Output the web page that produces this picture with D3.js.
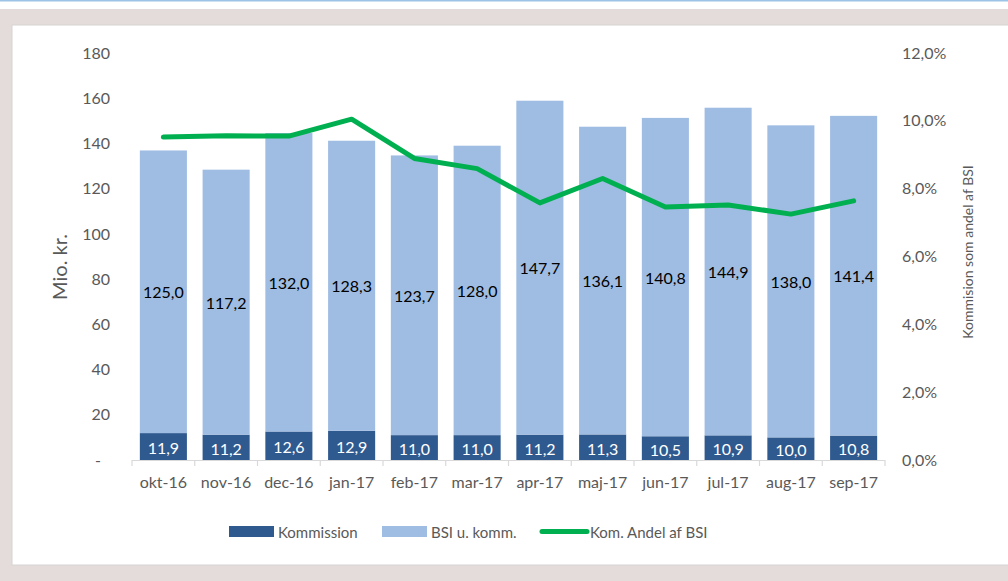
<!DOCTYPE html>
<html>
<head>
<meta charset="utf-8">
<script src="https://cdn.jsdelivr.net/npm/d3@7"></script>
<style>
  html, body { margin: 0; padding: 0; background: #ffffff; }
  svg { display: block; font-family: Lato, "Open Sans", sans-serif; }
</style>
</head>
<body>
<svg id="chart" width="1008" height="581"></svg>
<script>
const categories = ["okt-16","nov-16","dec-16","jan-17","feb-17","mar-17","apr-17","maj-17","jun-17","jul-17","aug-17","sep-17"];
const kommission = [11.9, 11.2, 12.6, 12.9, 11.0, 11.0, 11.2, 11.3, 10.5, 10.9, 10.0, 10.8];
const bsiUKomm = [125.0, 117.2, 132.0, 128.3, 123.7, 128.0, 147.7, 136.1, 140.8, 144.9, 138.0, 141.4];
const komAndel = [9.52, 9.56, 9.55, 10.05, 8.89, 8.59, 7.58, 8.30, 7.46, 7.52, 7.25, 7.64];
const leftTicks = [0, 20, 40, 60, 80, 100, 120, 140, 160, 180];
const rightTicks = [0, 2, 4, 6, 8, 10, 12];
const seriesNames = ["Kommission", "BSI u. komm.", "Kom. Andel af BSI"];

const colDark = "#2f5a8f", colLight = "#9fbce2", colGreen = "#00b050";
const txtGray = "#595959";

const svg = d3.select("#chart");
// background frame
svg.append("rect").attr("x",0).attr("y",0).attr("width",1008).attr("height",581).attr("fill","#ffffff");
svg.append("rect").attr("x",0).attr("y",0).attr("width",1008).attr("height",1.5).attr("fill","#9dc3e6");
svg.append("rect").attr("x",0).attr("y",9).attr("width",1008).attr("height",572).attr("fill","#e4dcdb");
svg.append("rect").attr("x",12).attr("y",25).attr("width",1000).attr("height",540)
  .attr("fill","#ffffff").attr("stroke","#d6d2d2").attr("stroke-width",1);

const x = d3.scaleBand().domain(categories).range([132, 885]).paddingInner(0.25).paddingOuter(0.125);
const y = d3.scaleLinear().domain([0, 180]).range([460, 53]);
const y2 = d3.scaleLinear().domain([0, 12]).range([460, 53]);

// bars
const g = svg.append("g");
categories.forEach((c, i) => {
  const k = kommission[i], b = bsiUKomm[i];
  g.append("rect").attr("x", x(c)).attr("width", x.bandwidth())
    .attr("y", y(k)).attr("height", y(0) - y(k)).attr("fill", colDark);
  g.append("rect").attr("x", x(c)).attr("width", x.bandwidth())
    .attr("y", y(k + b)).attr("height", y(k) - y(k + b)).attr("fill", colLight);
});

// left axis
const yAxis = d3.axisLeft(y).tickValues(leftTicks).tickSize(0).tickPadding(0)
  .tickFormat(d => d === 0 ? "-" : d3.format("d")(d));
const ya = svg.append("g").attr("transform", "translate(110,0)").call(yAxis);
ya.select(".domain").remove();
ya.selectAll("text").attr("fill", txtGray).attr("font-size", 16).attr("font-family", "Lato, sans-serif")
  .attr("dx", d => d === 0 ? -9 : 0);

// right axis
const fmtPct = d => d3.format(".1f")(d).replace(".", ",") + "%";
const y2Axis = d3.axisRight(y2).tickValues(rightTicks).tickSize(0).tickPadding(0).tickFormat(fmtPct);
const yb = svg.append("g").attr("transform", "translate(902,0)").call(y2Axis);
yb.select(".domain").remove();
yb.selectAll("text").attr("fill", txtGray).attr("font-size", 16).attr("font-family", "Lato, sans-serif");

// x axis
const xAxis = d3.axisBottom(x).tickSize(0).tickPadding(17);
const xa = svg.append("g").attr("transform", "translate(0,460)").call(xAxis);
xa.select(".domain").attr("stroke", "#d9d9d9").attr("stroke-width", 1.2)
  .attr("d", "M132,0.5H885");
xa.selectAll("text").attr("fill", txtGray).attr("font-size", 16).attr("font-family", "Lato, sans-serif");
const step = x.step();
const bounds = d3.range(categories.length + 1).map(i => 132 + i * step);
xa.selectAll(".bt").data(bounds).join("line").attr("class","bt")
  .attr("x1", d => d).attr("x2", d => d).attr("y1", 0).attr("y2", 6)
  .attr("stroke", "#d9d9d9").attr("stroke-width", 1.2);

// data labels
categories.forEach((c, i) => {
  const k = kommission[i], b = bsiUKomm[i];
  const cx = x(c) + x.bandwidth() / 2;
  g.append("text").attr("x", cx).attr("y", (y(k) + y(k + b)) / 2)
    .attr("text-anchor", "middle").attr("dominant-baseline", "central")
    .attr("font-size", 16).attr("fill", "#000000").text(d3.format(".1f")(b).replace(".", ","));
  g.append("text").attr("x", cx).attr("y", (y(0) + y(k)) / 2 + 1)
    .attr("text-anchor", "middle").attr("dominant-baseline", "central")
    .attr("font-size", 16).attr("fill", "#ffffff").text(d3.format(".1f")(k).replace(".", ","));
});

// line
const line = d3.line().x((d, i) => x(categories[i]) + x.bandwidth() / 2).y(d => y2(d));
svg.append("path").datum(komAndel).attr("d", line).attr("fill", "none")
  .attr("stroke", colGreen).attr("stroke-width", 5).attr("stroke-linejoin", "round").attr("stroke-linecap", "round");

// axis titles
svg.append("text").attr("transform", "translate(67,267) rotate(-90)").attr("text-anchor", "middle")
  .attr("font-size", 20).attr("fill", txtGray).text("Mio. kr.");
svg.append("text").attr("transform", "translate(973,252) rotate(-90)").attr("text-anchor", "middle")
  .attr("font-size", 14).attr("fill", txtGray).text("Kommision som andel af BSI");

// legend
const leg = svg.append("g");
leg.append("rect").attr("x", 229).attr("y", 526).attr("width", 45).attr("height", 11).attr("fill", colDark);
leg.append("text").attr("x", 278).attr("y", 532).attr("dominant-baseline", "central").attr("font-size", 15).attr("fill", txtGray).text(seriesNames[0]);
leg.append("rect").attr("x", 382).attr("y", 526).attr("width", 45).attr("height", 11).attr("fill", colLight);
leg.append("text").attr("x", 431).attr("y", 532).attr("dominant-baseline", "central").attr("font-size", 15).attr("fill", txtGray).text(seriesNames[1]);
leg.append("line").attr("x1", 542).attr("x2", 587).attr("y1", 531.5).attr("y2", 531.5).attr("stroke", colGreen).attr("stroke-width", 5).attr("stroke-linecap", "round");
leg.append("text").attr("x", 590).attr("y", 532).attr("dominant-baseline", "central").attr("font-size", 15).attr("fill", txtGray).text(seriesNames[2]);
</script>
</body>
</html>
